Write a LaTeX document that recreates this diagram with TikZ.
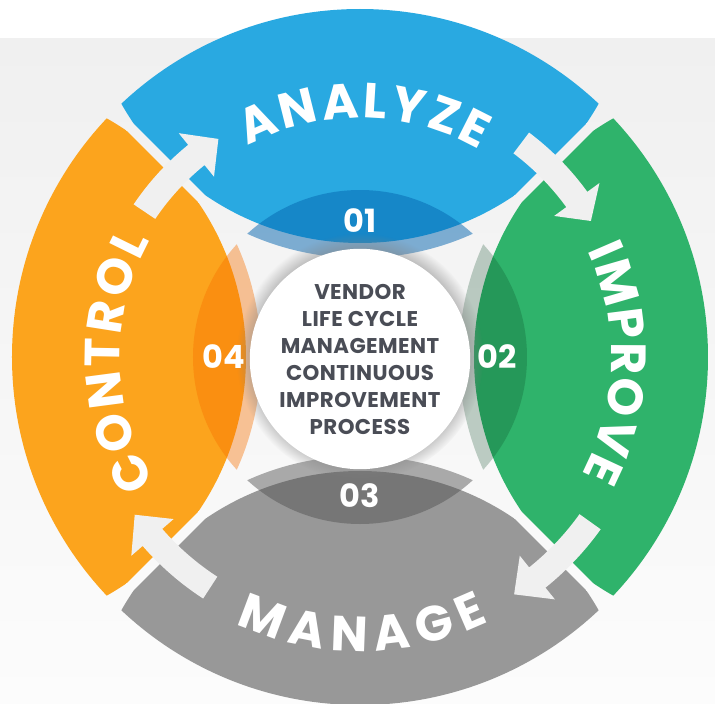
\documentclass[tikz,border=0pt]{standalone}
\usepackage{fontspec}
\setmainfont{Poppins}
\usetikzlibrary{decorations.text,shadows}
\definecolor{bgTop}{HTML}{F0F0F0}
\definecolor{bgBottom}{HTML}{FCFCFC}
\definecolor{arrowColor}{HTML}{F0F0F0}
\definecolor{analyzeColor}{HTML}{29A9E1}
\definecolor{analyzeDark}{HTML}{0566B0}
\definecolor{improveColor}{HTML}{2FB36B}
\definecolor{improveDark}{HTML}{084824}
\definecolor{manageColor}{HTML}{989898}
\definecolor{manageDark}{HTML}{515151}
\definecolor{controlColor}{HTML}{FCA41D}
\definecolor{controlDark}{HTML}{F77000}
\definecolor{hubText}{HTML}{4A4D56}

\tikzset{
	ringLabel/.style={decorate, decoration={text along path, text color=white, text align={fit to path}, text={|\fontsize{37}{37}\selectfont\bfseries|#1}}},
	stepNumber/.style={text=white, font=\fontsize{24}{24}\selectfont\bfseries, inner sep=0pt},
	hubCircle/.style={circle, fill=white, minimum size=156pt, inner sep=0pt, align=center, text=hubText, font=\fontsize{16}{20.25}\selectfont\bfseries\addfontfeatures{LetterSpace=2}, circular drop shadow={shadow xshift=0pt, shadow yshift=1.5pt, shadow scale=1.12, opacity=0.55}}
}

\begin{document}
\begin{tikzpicture}[x=0.75pt,y=0.75pt]
		\useasboundingbox (-360,-347) rectangle (355,357);
		% Background
		\fill [white] (-360,-347) rectangle (355,357);
		\shade [top color=bgTop, bottom color=bgBottom] (-360,-347) rectangle (355,319);

		% Segments
		\foreach \ang/\col in {90/analyzeColor, 0/improveColor, -90/manageColor, 180/controlColor} {
			\begin{scope}[rotate=\ang]
				\clip (7.07,0) -- (507,500) -- (507,-500) -- cycle;
				\clip (0,0) circle [radius=348];
				\fill [\col] (388,0) circle [radius=274];
			\end{scope}
		}

		% Inner lenses
		\foreach \ang/\col/\op in {90/analyzeDark/0.5, 0/improveDark/0.25, -90/manageDark/0.47, 180/controlDark/0.4} {
			\begin{scope}[rotate=\ang]
				\clip (0,0) circle [radius=167];
				\fill [\col, fill opacity=\op] (373,0) circle [radius=274];
			\end{scope}
		}

		% Arrows
		\foreach \tail/\base/\tip/\rad in {146/129/123/260, 53/36/30.5/268, -35.6/-51.2/-57/283, -123/-139/-145/275} {
			\pgfmathsetmacro\rin{\rad-13}
			\pgfmathsetmacro\rout{\rad+13}
			\pgfmathsetmacro\hin{\rad-28}
			\pgfmathsetmacro\hout{\rad+28}
			\fill [arrowColor] (\tail:\rin) arc [start angle=\tail, end angle=\base, radius=\rin] -- (\base:\hin) -- (\tip:\rad) -- (\base:\hout) -- (\base:\rout) arc [start angle=\base, end angle=\tail, radius=\rout] -- cycle;
		}

		% Hub
		\node [hubCircle] (hub) at (0,-2) {VENDOR\\LIFE CYCLE\\MANAGEMENT\\CONTINUOUS\\IMPROVEMENT\\PROCESS};

		% Step numbers
		\node [stepNumber] (num01) at (90:136)  {01};
		\node [stepNumber] (num02) at (0:137)   {02};
		\node [stepNumber] (num03) at (-90:139) {03};
		\node [stepNumber] (num04) at (180:136) {04};

		% Ring labels
		\path [ringLabel=ANALYZE] (118:239) arc [start angle=118, end angle=60, radius=239];
		\path [ringLabel=IMPROVE] (25:251) arc [start angle=25, end angle=-28, radius=251];
		\path [ringLabel=MANAGE]  (-115:294) arc [start angle=-115, end angle=-64, radius=294];
		\path [ringLabel=CONTROL] (211.5:240) arc [start angle=211.5, end angle=151, radius=240];
	\end{tikzpicture}
\end{document}
